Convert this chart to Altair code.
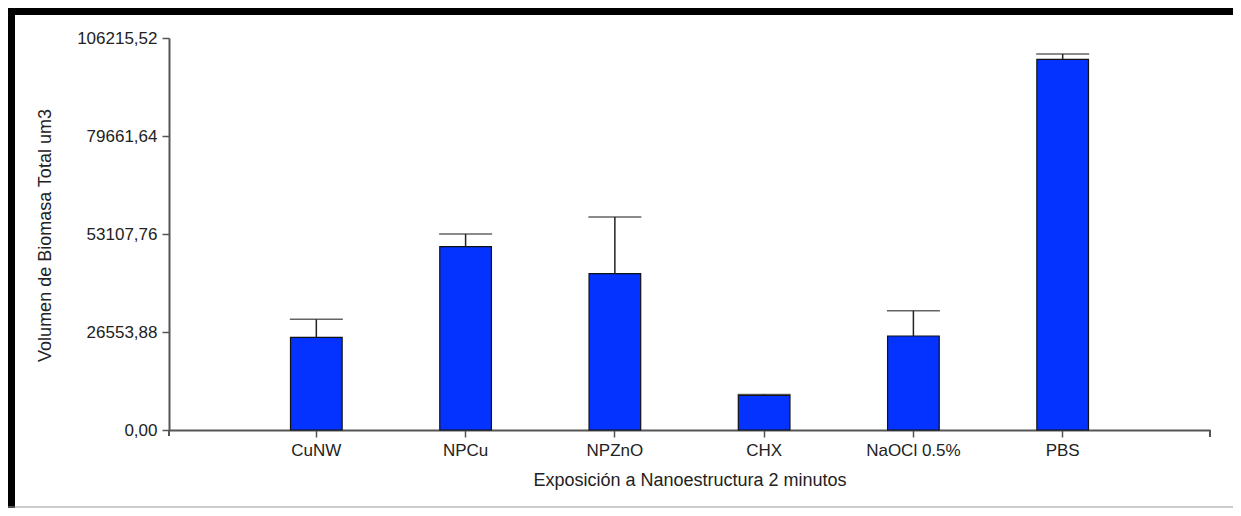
import altair as alt
import pandas as pd

categories = ["CuNW", "NPCu", "NPZnO", "CHX", "NaOCl 0.5%", "PBS"]
means = [25120, 49670, 42350, 9400, 25470, 100440]
errors = [4880, 3450, 15360, 220, 6860, 1440]
y_ticks = [0, 26553.88, 53107.76, 79661.64, 106215.52]

df = pd.DataFrame({"cat": categories, "mean": means, "err": errors})
df["upper"] = df["mean"] + df["err"]

W, H = 1041, 392
FONT = "Liberation Sans"
AXIS_COLOR = "#555555"

x_enc = alt.X(
    "cat:N",
    sort=categories,
    scale=alt.Scale(type="band", paddingInner=0.654, paddingOuter=0.814),
    axis=alt.Axis(
        title="Exposición a Nanoestructura 2 minutos",
        labelAngle=0,
        titleY=50,
        titleBaseline="middle",
        labelPadding=5,
    ),
)
y_enc = alt.Y(
    "mean:Q",
    scale=alt.Scale(domain=[0, 106215.52], nice=False, zero=True),
    axis=alt.Axis(
        title="Volumen de Biomasa Total um3",
        values=y_ticks,
        labelExpr="replace(format(datum.value, '.2f'), '.', ',')",
        titleX=-124,
        titleY=197,
        titleAlign="center",
        titleBaseline="middle",
        labelPadding=5,
        grid=False,
    ),
)

base = alt.Chart(df)

bars = base.mark_bar(fill="#0433FF", stroke="#111111", strokeWidth=1.2).encode(
    x=x_enc, y=y_enc
)
err_line = base.mark_rule(color="#222222", strokeWidth=1.5).encode(
    x=alt.X("cat:N", sort=categories), y="mean:Q", y2="upper:Q"
)
caps = base.mark_tick(color="#222222", thickness=1.6, size=53).encode(
    x=alt.X("cat:N", sort=categories), y="upper:Q"
)

one = alt.Data(values=[{"k": 1}])
end_tick_x = alt.Chart(one).mark_rule(color=AXIS_COLOR, strokeWidth=2).encode(
    x=alt.value(W), y=alt.value(H), y2=alt.value(H + 7)
)
end_tick_y = alt.Chart(one).mark_rule(color=AXIS_COLOR, strokeWidth=2).encode(
    x=alt.value(0), y=alt.value(H), y2=alt.value(H + 6)
)
# frame decoration (window border in the original)
frame_left = alt.Chart(one).mark_rule(color="#000000", strokeWidth=7).encode(
    x=alt.value(-157.5), y=alt.value(-30), y2=alt.value(470)
)
frame_top = alt.Chart(one).mark_rule(color="#000000", strokeWidth=7).encode(
    x=alt.value(-161), x2=alt.value(1064), y=alt.value(-26.5)
)
frame_bottom = alt.Chart(one).mark_rule(color="#999999", strokeWidth=1).encode(
    x=alt.value(-161), x2=alt.value(1064), y=alt.value(469)
)

chart = (
    alt.layer(bars, err_line, caps, end_tick_x, end_tick_y, frame_left, frame_top, frame_bottom)
    .properties(
        width=W,
        height=H,
        autosize=alt.AutoSizeParams(type="none"),
        padding={"left": 161, "top": 30, "right": 23, "bottom": 78},
        background="white",
    )
    .configure_view(strokeWidth=0)
    .configure_axis(
        domainColor=AXIS_COLOR,
        domainWidth=2,
        tickColor=AXIS_COLOR,
        tickWidth=1.5,
        tickSize=7,
        labelFont=FONT,
        labelFontSize=17,
        labelColor="#222222",
        titleFont=FONT,
        titleFontSize=18,
        titleFontWeight="normal",
        titleColor="#222222",
        grid=False,
    )
)

chart.save("out.html", embed_options={"renderer": "svg", "actions": False})
